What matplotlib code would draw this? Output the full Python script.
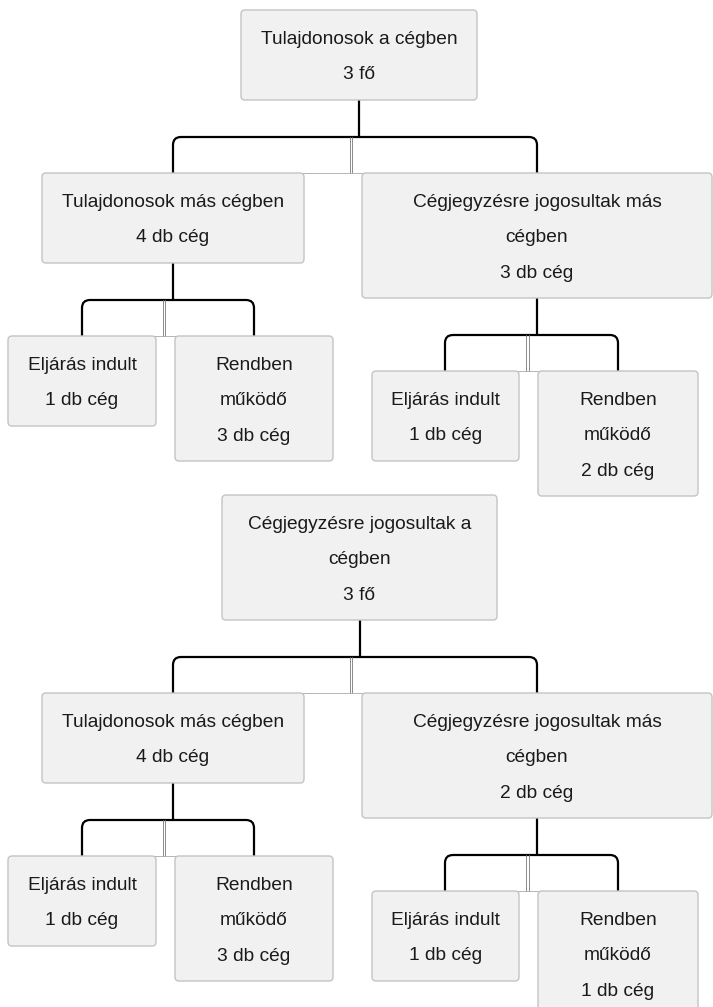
import matplotlib
matplotlib.use("Agg")
import matplotlib.pyplot as plt
from matplotlib.patches import FancyBboxPatch, PathPatch
from matplotlib.path import Path

plt.rcParams['font.family'] = ['Liberation Sans', 'DejaVu Sans']

# adatok: két fa (tulajdonosok / cégjegyzésre jogosultak)
root_labels = ["Tulajdonosok a cégben", "Cégjegyzésre jogosultak a\ncégben"]
root_counts = [3, 3]
owner_other_counts = [4, 4]
signer_other_counts = [3, 2]
owner_eljaras = [1, 1]
owner_rendben = [3, 3]
signer_eljaras = [1, 1]
signer_rendben = [2, 1]

W, H = 713, 1007
BOX_FC = "#f1f1f1"
BOX_EC = "#c4c4c4"
TXT = "#1a1a1a"
LINE_H = 35.3

fig = plt.figure(figsize=(W / 100, H / 100), dpi=100)
ax = fig.add_axes([0, 0, 1, 1])
ax.set_xlim(0, W)
ax.set_ylim(H, 0)
ax.axis("off")


def box(x0, x1, top, text):
    lines = text.split("\n")
    h = 20 + 35 * len(lines)
    p = FancyBboxPatch((x0, top), x1 - x0, h, boxstyle="round,pad=0,rounding_size=4",
                       fc=BOX_FC, ec=BOX_EC, lw=1.0, zorder=2)
    ax.add_patch(p)
    for i, ln in enumerate(lines):
        ax.text((x0 + x1) / 2, top + 34 + LINE_H * i, ln, ha="center", va="baseline",
                fontsize=13.8, color=TXT, zorder=3)
    return top + h


def connector(px, pbottom, cx1, cx2):
    # szülő -> két gyerek, lekerekített "kapocs"
    ybr = pbottom + 37
    ybot = ybr + 36
    r = 8
    ax.plot([px, px], [pbottom, ybr], color="black", lw=1.6, zorder=1, solid_capstyle="butt")
    verts = [(cx1, ybot), (cx1, ybr + r), (cx1, ybr), (cx1 + r, ybr),
             (cx2 - r, ybr), (cx2, ybr), (cx2, ybr + r), (cx2, ybot)]
    codes = [Path.MOVETO, Path.LINETO, Path.CURVE3, Path.CURVE3,
             Path.LINETO, Path.CURVE3, Path.CURVE3, Path.LINETO]
    ax.add_patch(PathPatch(Path(verts, codes), fc="none", ec="black", lw=1.6, zorder=1))
    mid = (cx1 + cx2) / 2 - 4
    for dx in (-1.2, 1.2):
        ax.plot([mid + dx, mid + dx], [ybr, ybot], color="#777777", lw=0.6, zorder=1)
    ax.plot([cx1, cx2], [ybot, ybot], color="#aaaaaa", lw=0.6, zorder=1)
    return ybot


root_x = [(241, 477), (222, 497)]
root_top = [10, 495]

for t in range(2):
    rx0, rx1 = root_x[t]
    rb = box(rx0, rx1, root_top[t], f"{root_labels[t]}\n{root_counts[t]} fő")
    rc = (rx0 + rx1) / 2
    y1 = connector(rc, rb, 173, 537)

    lb = box(42, 304, y1, f"Tulajdonosok más cégben\n{owner_other_counts[t]} db cég")
    sb = box(362, 712, y1, f"Cégjegyzésre jogosultak más\ncégben\n{signer_other_counts[t]} db cég")

    y2 = connector(173, lb, 82, 254)
    box(8, 156, y2, f"Eljárás indult\n{owner_eljaras[t]} db cég")
    box(175, 333, y2, f"Rendben\nműködő\n{owner_rendben[t]} db cég")

    y3 = connector(537, sb, 445, 618)
    box(372, 519, y3, f"Eljárás indult\n{signer_eljaras[t]} db cég")
    box(538, 698, y3, f"Rendben\nműködő\n{signer_rendben[t]} db cég")

fig.savefig("out.png", dpi=100)
